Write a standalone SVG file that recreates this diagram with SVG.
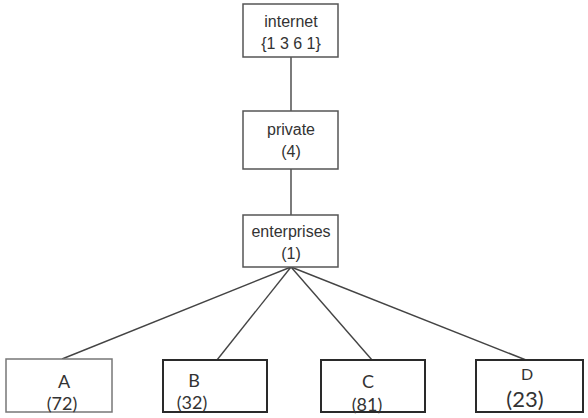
<svg xmlns="http://www.w3.org/2000/svg" width="588" height="418" viewBox="0 0 588 418">
<style>
.box{fill:#fff;stroke:#555;stroke-width:1.5}
.leaf{fill:#fff;stroke:#2a2a2a;stroke-width:2}
.t{font-family:"Liberation Sans",Arial,sans-serif;font-size:16px;fill:#333;text-anchor:middle}
.l{font-family:Lato,"Liberation Sans",sans-serif;font-size:18px;fill:#333;text-anchor:middle}
.c{stroke:#444;stroke-width:1.4;fill:none}
</style>
<rect width="588" height="418" fill="#fff"/>
<g id="connectors">
<line class="c" x1="291" y1="57" x2="291" y2="111"/>
<line class="c" x1="291" y1="169" x2="291" y2="215"/>
<line class="c" x1="291" y1="267" x2="62" y2="359"/>
<line class="c" x1="291" y1="267" x2="217" y2="360"/>
<line class="c" x1="291" y1="267" x2="372" y2="360"/>
<line class="c" x1="291" y1="267" x2="526" y2="360"/>
</g>
<g id="internet">
<rect class="box" x="243" y="4" width="95" height="53"/>
<text class="t" x="291" y="27">internet</text>
<text class="t" x="291" y="49">{1 3 6 1}</text>
</g>
<g id="private">
<rect class="box" x="243" y="111" width="95" height="58"/>
<text class="t" x="291" y="135">private</text>
<text class="t" x="291" y="157">(4)</text>
</g>
<g id="enterprises">
<rect class="box" x="243" y="215" width="95" height="52"/>
<text class="t" x="291" y="237">enterprises</text>
<text class="t" x="291" y="259">(1)</text>
</g>
<g id="A">
<rect x="6" y="359" width="106" height="53" fill="#fff" stroke="#777" stroke-width="1.5"/>
<text class="l" x="64" y="388">A</text>
<text class="l" x="62" y="410">(72)</text>
</g>
<g id="B">
<rect class="leaf" x="163" y="360" width="104" height="52"/>
<text class="l" x="194" y="387">B</text>
<text class="l" x="192" y="409">(32)</text>
</g>
<g id="C">
<rect class="leaf" x="321" y="360" width="104" height="52"/>
<text class="l" x="368" y="388">C</text>
<text class="l" x="367" y="411">(81)</text>
</g>
<g id="D">
<rect class="leaf" x="476" y="360" width="107" height="52"/>
<text class="l" x="527" y="380" style="font-size:16px">D</text>
<text class="l" x="525" y="407" style="font-size:22px">(23)</text>
</g>
</svg>
